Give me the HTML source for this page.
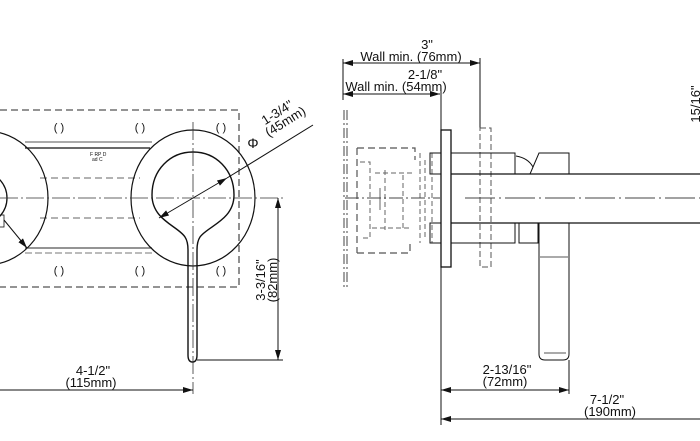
<!DOCTYPE html>
<html><head><style>
html,body{margin:0;padding:0;background:#fff;}
svg{display:block;}
text{font-family:"Liberation Sans",Arial,sans-serif;font-size:13px;fill:#111;}
</style></head><body>
<svg width="700" height="441" viewBox="0 0 700 441" xmlns="http://www.w3.org/2000/svg">
<defs>
<marker id="a" viewBox="0 0 10 6" refX="10" refY="3" markerWidth="10" markerHeight="6" orient="auto-start-reverse" markerUnits="userSpaceOnUse"><path d="M0,0 L10,3 L0,6 z" fill="#111"/></marker>
</defs>
<g fill="none" stroke="#111" stroke-width="1">
<path d="M0,110 H239 V287 H0" stroke="#555" stroke-dasharray="7,4" stroke-width="1.3"/>
<line x1="25" y1="142" x2="152" y2="142" stroke="#777" stroke-width="1.3"/>
<line x1="25" y1="148" x2="150" y2="148" stroke-width="1.3"/>
<line x1="40" y1="178" x2="140" y2="178" stroke="#666" stroke-dasharray="7,4"/>
<line x1="40" y1="218" x2="140" y2="218" stroke="#666" stroke-dasharray="7,4"/>
<line x1="25" y1="248" x2="152" y2="248" stroke="#555" stroke-width="1.3"/>
<line x1="25" y1="253" x2="152" y2="253" stroke="#777" stroke-dasharray="7,3"/>
<ellipse cx="-14" cy="198" rx="62" ry="67" stroke-width="1.2"/>
<ellipse cx="-28" cy="198" rx="35" ry="30" stroke-width="1.3"/>
<rect x="-5" y="215" width="9" height="12" stroke-width="0.8"/>
<line x1="4" y1="220" x2="27" y2="248" marker-end="url(#a)"/>
<ellipse cx="193" cy="198" rx="62" ry="68" stroke-width="1.2"/>
<path d="M185,237 C178,226 152,220 152,195 C152,170 170,152 193,152 C216,152 234,170 234,195 C234,220 208,226 200,237 C198,240 197,244 197,250 V355 Q197,362 192.5,362 Q188,362 188,355 V250 C188,244 187,240 185,237 Z" stroke-width="1.4"/>
<line x1="0" y1="198" x2="283" y2="198" stroke="#333" stroke-dasharray="18,3,2,3" stroke-width="0.8"/>
<line x1="193" y1="122" x2="193" y2="394" stroke="#333" stroke-dasharray="18,3,2,3" stroke-width="0.8"/>
<line x1="159" y1="218" x2="227" y2="178" marker-start="url(#a)" marker-end="url(#a)"/>
<line x1="227" y1="178" x2="313" y2="125"/>
<line x1="197" y1="360" x2="283" y2="360"/>
<line x1="278" y1="198" x2="278" y2="360" marker-start="url(#a)" marker-end="url(#a)"/>
<line x1="0" y1="390" x2="193" y2="390" marker-end="url(#a)"/>
<line x1="343" y1="59" x2="343" y2="100"/>
<line x1="343" y1="63" x2="480" y2="63" marker-start="url(#a)" marker-end="url(#a)"/>
<line x1="480" y1="58" x2="480" y2="130"/>
<line x1="343" y1="94" x2="440" y2="94" marker-start="url(#a)" marker-end="url(#a)"/>
<line x1="441" y1="88" x2="441" y2="425"/>
<path d="M344,110 V287 M347,110 V287" stroke="#444" stroke-dasharray="10,3,2,3"/>
<path d="M357,148 H415 V160 M357,253 H410 V240 M357,148 V253" stroke="#555" stroke-dasharray="7,4" stroke-width="1.2"/>
<path d="M375,173 H415 M372,228 H410 M403,175 V228 M385,170 V230 M360,162 H370 V238 H360 M420,153 V243 M425,160 V240 M432,153 V243" stroke="#666" stroke-dasharray="5,3"/>
<line x1="380" y1="188" x2="380" y2="210" stroke="#666"/>
<line x1="345" y1="198" x2="440" y2="198" stroke="#444" stroke-dasharray="14,3,2,3"/>
<rect x="430" y="153" width="11" height="21"/>
<rect x="430" y="223" width="11" height="20"/>
<rect x="441" y="130" width="10" height="137" stroke-width="1.3"/>
<rect x="480" y="128" width="11" height="139" stroke="#555" stroke-dasharray="6,3"/>
<rect x="451" y="153" width="64" height="21"/>
<rect x="451" y="223" width="64" height="20"/>
<line x1="451" y1="174" x2="700" y2="174" stroke-width="1.3"/>
<line x1="451" y1="223" x2="700" y2="223" stroke-width="1.3"/>
<line x1="465" y1="198" x2="700" y2="198" stroke="#444" stroke-dasharray="30,4,2,4"/>
<path d="M530,174 L539,153 H569 V174"/>
<path d="M516,156 Q528,158 533,167"/>
<rect x="519" y="223" width="19" height="20"/>
<path d="M538,223 H569 V354 Q569,360 563,360 H545 Q539,360 539,354 V223"/>
<line x1="540" y1="257" x2="568" y2="257" stroke="#555"/>
<line x1="544" y1="353" x2="566" y2="353" stroke="#555"/>
<line x1="569" y1="360" x2="569" y2="394"/>
<line x1="441" y1="390" x2="569" y2="390" marker-start="url(#a)" marker-end="url(#a)"/>
<line x1="441" y1="419" x2="700" y2="419" marker-start="url(#a)"/>
</g>
<g>
<text x="59" y="131" text-anchor="middle" style="font-size:11px">( )</text>
<text x="140" y="131" text-anchor="middle" style="font-size:11px">( )</text>
<text x="221" y="131" text-anchor="middle" style="font-size:11px">( )</text>
<text x="59" y="274" text-anchor="middle" style="font-size:11px">( )</text>
<text x="140" y="274" text-anchor="middle" style="font-size:11px">( )</text>
<text x="221" y="274" text-anchor="middle" style="font-size:11px">( )</text>
<text x="90" y="156" style="font-size:5px">F RP D</text>
<text x="92" y="161" style="font-size:5px">ad C</text>
<text x="253" y="148" text-anchor="middle" style="font-size:14px">Φ</text>
<g transform="translate(287,128) rotate(-32)"><text x="0" y="-14" text-anchor="middle">1-3/4"</text><text x="2" y="-2" text-anchor="middle">(45mm)</text></g>
<g transform="translate(265,280) rotate(-90)"><text x="0" y="0" text-anchor="middle">3-3/16"</text><text x="0" y="12" text-anchor="middle">(82mm)</text></g>
<text x="93" y="375" text-anchor="middle">4-1/2"</text>
<text x="91" y="387" text-anchor="middle">(115mm)</text>
<text x="427" y="49" text-anchor="middle">3"</text>
<text x="411" y="61" text-anchor="middle">Wall min. (76mm)</text>
<text x="425" y="79" text-anchor="middle">2-1/8"</text>
<text x="396" y="91" text-anchor="middle">Wall min. (54mm)</text>
<g transform="translate(700,104) rotate(-90)"><text x="0" y="0" text-anchor="middle">15/16"</text></g>
<text x="507" y="374" text-anchor="middle">2-13/16"</text>
<text x="505" y="386" text-anchor="middle">(72mm)</text>
<text x="607" y="404" text-anchor="middle">7-1/2"</text>
<text x="610" y="416" text-anchor="middle">(190mm)</text>
</g>
</svg>
</body></html>
